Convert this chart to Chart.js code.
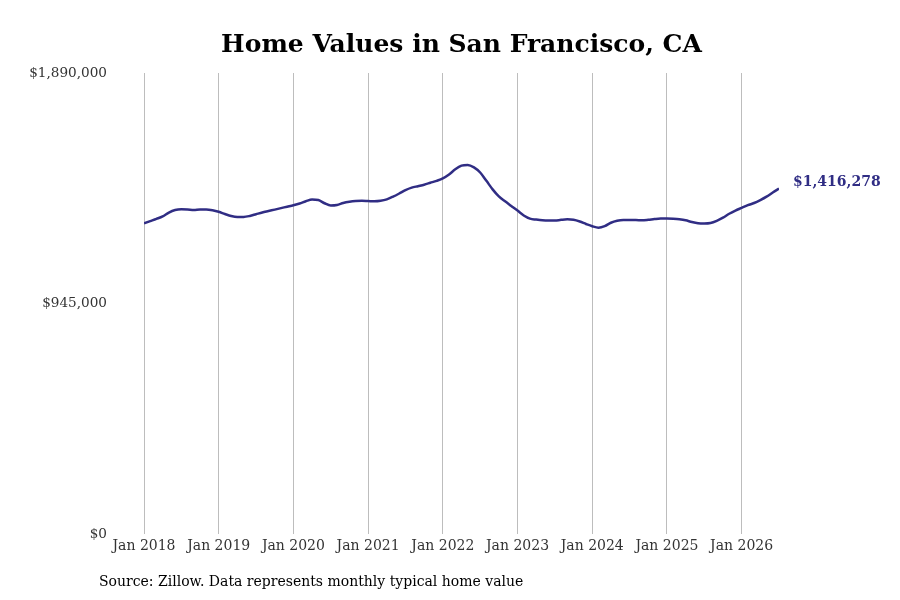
<!DOCTYPE html>
<html>
<head>
<meta charset="utf-8">
<script src="https://cdn.jsdelivr.net/npm/chart.js@4"></script>
<style>
  html, body { margin: 0; padding: 0; background: #fff; }
  #wrap { width: 900px; height: 600px; }
</style>
</head>
<body>
<div id="wrap"><canvas id="chart" width="900" height="600"></canvas></div>
<script>
// Monthly typical home value, Jan 2018 .. Jul 2026
const startYear = 2018;

const values2018 = [1274000, 1283000, 1292000, 1302000, 1318000, 1328000, 1331000, 1330000, 1328000, 1330000, 1330000, 1327000];
const values2019 = [1321000, 1312000, 1304000, 1300000, 1300000, 1304000, 1311000, 1318000, 1324000, 1330000, 1336000, 1342000];
const values2020 = [1348000, 1355000, 1364000, 1371000, 1369000, 1356000, 1347000, 1349000, 1357000, 1362000, 1365000, 1366000];
const values2021 = [1365000, 1364000, 1366000, 1372000, 1383000, 1396000, 1410000, 1420000, 1426000, 1432000, 1440000, 1448000];
const values2022 = [1458000, 1474000, 1495000, 1510000, 1513000, 1503000, 1482000, 1448000, 1413000, 1384000, 1364000, 1345000];
const values2023 = [1326000, 1306000, 1293000, 1289000, 1286000, 1285000, 1285000, 1288000, 1290000, 1288000, 1281000, 1271000];
const values2024 = [1262000, 1256000, 1262000, 1276000, 1284000, 1287000, 1287000, 1287000, 1286000, 1288000, 1291000, 1293000];
const values2025 = [1293000, 1292000, 1290000, 1286000, 1279000, 1274000, 1273000, 1275000, 1284000, 1297000, 1313000, 1326000];
const values2026 = [1337000, 1348000, 1357000, 1369000, 1383000, 1400000, 1416278];

const homeValues = [].concat(values2018, values2019, values2020, values2021, values2022,
                             values2023, values2024, values2025, values2026);

// x ticks: January of each year, as month offsets from Jan 2018
const xTickYears = [2018, 2019, 2020, 2021, 2022, 2023, 2024, 2025, 2026];
const yTicks = [0, 945000, 1890000];

const lineColor = '#302d84';
const serif = "'DejaVu Serif', serif";

const fmtMoney = v => '$' + Math.round(v).toLocaleString('en-US');

// Title, end label and source line
const textPlugin = {
    id: 'texts',
    afterDraw(chart) {
        const ctx = chart.ctx;
        const area = chart.chartArea;
        ctx.save();

        ctx.fillStyle = '#000';
        ctx.font = 'bold 25px ' + serif;
        ctx.textAlign = 'center';
        ctx.textBaseline = 'middle';
        ctx.fillText('Home Values in San Francisco, CA', (area.left + area.right) / 2, 45);

        const last = homeValues.length - 1;
        const x = chart.scales.x.getPixelForValue(last);
        const y = chart.scales.y.getPixelForValue(homeValues[last]);
        ctx.fillStyle = lineColor;
        ctx.font = 'bold 14px ' + serif;
        ctx.textAlign = 'left';
        ctx.fillText(fmtMoney(homeValues[last]), x + 14, y - 6);

        ctx.fillStyle = '#000';
        ctx.font = '14px ' + serif;
        ctx.fillText('Source: Zillow. Data represents monthly typical home value', 99, 582);

        ctx.restore();
    }
};

new Chart(document.getElementById('chart').getContext('2d'), {
    type: 'line',
    data: {
        datasets: [{
            data: homeValues.map((v, i) => ({ x: i, y: v })),
            borderColor: lineColor,
            borderWidth: 2.5,
            pointRadius: 0,
            tension: 0.4,
            cubicInterpolationMode: 'monotone',
            fill: false
        }]
    },
    options: {
        responsive: false,
        animation: false,
        parsing: false,
        layout: { padding: { top: 73, right: 121, bottom: 0, left: 0 } },
        plugins: {
            legend: { display: false },
            tooltip: { enabled: false },
            title: { display: false }
        },
        scales: {
            x: {
                type: 'linear',
                min: 0,
                max: homeValues.length - 1,
                border: { display: false },
                grid: { drawTicks: false, color: '#bdbdbd', lineWidth: 1 },
                afterBuildTicks: s => {
                    s.ticks = xTickYears.map(yr => ({ value: (yr - startYear) * 12 }));
                },
                afterFit: s => { s.height = 66; },
                ticks: {
                    maxRotation: 0,
                    padding: 4,
                    color: '#333',
                    font: { family: serif, size: 14 },
                    callback: v => 'Jan ' + (startYear + Math.round(v / 12))
                }
            },
            y: {
                min: 0,
                max: 1890000,
                border: { display: false },
                grid: { display: false, drawTicks: false },
                afterBuildTicks: s => { s.ticks = yTicks.map(v => ({ value: v })); },
                afterFit: s => { s.width = 144; },
                ticks: {
                    padding: 37,
                    color: '#333',
                    font: { family: serif, size: 13.6 },
                    callback: v => fmtMoney(v)
                }
            }
        }
    },
    plugins: [textPlugin]
});
</script>
</body>
</html>
